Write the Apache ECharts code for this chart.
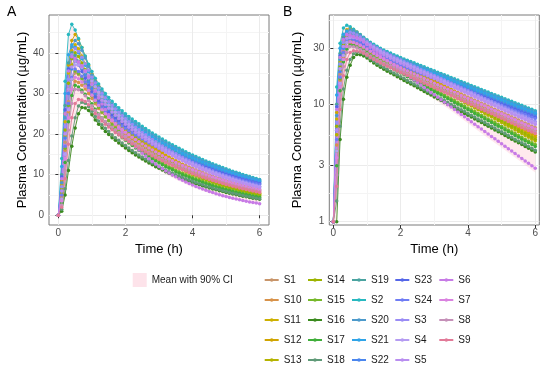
<!DOCTYPE html>
<html><head><meta charset="utf-8">
<script src="https://cdn.jsdelivr.net/npm/echarts@6/dist/echarts.min.js"></script>
<style>html,body{margin:0;padding:0;background:#fff}#c{width:550px;height:369px}</style>
</head><body><div id="c"></div>
<script>
// ---------- DATA ----------
const time = [0,0.1,0.2,0.3,0.4,0.5,0.6,0.7,0.8,0.9,1,1.1,1.2,1.3,1.4,1.5,1.6,1.7,1.8,1.9,2,2.1,2.2,2.3,2.4,2.5,2.6,2.7,2.8,2.9,3,3.1,3.2,3.3,3.4,3.5,3.6,3.7,3.8,3.9,4,4.1,4.2,4.3,4.4,4.5,4.6,4.7,4.8,4.9,5,5.1,5.2,5.3,5.4,5.5,5.6,5.7,5.8,5.9,6];
const subjects = ['S1','S10','S11','S12','S13','S14','S15','S16','S17','S18','S19','S2','S20','S21','S22','S23','S24','S3','S4','S5','S6','S7','S8','S9'];

const S1 = [0,5.5,18.0,28.0,33.5,35.0,34.6,33.8,32.8,31.6,30.38,29.04,27.83,26.74,25.72,24.83,23.99,23.21,22.46,21.75,21.08,20.40,19.80,19.22,18.65,18.10,17.56,17.04,16.54,16.05,15.58,15.12,14.67,14.24,13.81,13.41,13.01,12.63,12.25,11.89,11.54,11.20,10.87,10.55,10.23,9.93,9.64,9.35,9.08,8.81,8.55,8.30,8.05,7.81,7.58,7.36,7.14,6.93,6.72,6.53,6.33];
const S10 = [0,4.5,16.0,25.5,31.0,33.0,32.7,32.0,31.1,30.0,28.73,27.44,26.27,25.23,24.26,23.41,22.61,21.87,21.16,20.48,19.85,19.22,18.65,18.10,17.56,17.04,16.54,16.05,15.58,15.12,14.67,14.24,13.81,13.41,13.01,12.63,12.25,11.89,11.54,11.20,10.87,10.55,10.23,9.93,9.64,9.35,9.08,8.81,8.55,8.30,8.05,7.81,7.58,7.36,7.14,6.93,6.72,6.53,6.33,6.15,5.96];
const S11 = [0,7.5,23.0,35.0,40.5,42.0,41.0,39.2,37.3,35.4,33.64,32.02,30.54,29.20,27.95,26.83,25.77,24.79,23.85,22.96,22.12,21.29,20.54,19.81,19.11,18.44,17.79,17.16,16.55,15.96,15.40,14.86,14.33,13.82,13.33,12.86,12.41,11.97,11.55,11.14,10.74,10.36,10.00,9.64,9.30,8.97,8.66,8.35,8.06,7.77,7.50,7.23,6.98,6.73,6.49,6.26,6.04,5.83,5.62,5.42,5.23];
const S12 = [0,8.5,25.0,37.0,43.0,44.5,43.3,41.3,39.1,36.9,34.80,33.14,31.62,30.24,28.95,27.80,26.71,25.69,24.72,23.80,22.93,22.07,21.29,20.54,19.81,19.11,18.44,17.79,17.16,16.55,15.96,15.40,14.86,14.33,13.82,13.33,12.86,12.41,11.97,11.55,11.14,10.74,10.36,10.00,9.64,9.30,8.97,8.66,8.35,8.06,7.77,7.50,7.23,6.98,6.73,6.49,6.26,6.04,5.83,5.62,5.42];
const S13 = [0,5.5,19.5,31.0,37.0,38.5,37.7,36.2,34.6,33.0,31.44,29.90,28.50,27.23,26.04,24.99,24.00,23.08,22.20,21.37,20.59,19.81,19.11,18.44,17.79,17.16,16.55,15.96,15.40,14.86,14.33,13.82,13.33,12.86,12.41,11.97,11.55,11.14,10.74,10.36,10.00,9.64,9.30,8.97,8.66,8.35,8.06,7.77,7.50,7.23,6.98,6.73,6.49,6.26,6.04,5.83,5.62,5.42,5.23,5.04,4.87];
const S14 = [0,6.5,21.0,32.5,38.5,40.0,39.1,37.5,35.8,34.1,32.52,30.94,29.50,28.20,26.98,25.89,24.87,23.92,23.01,22.15,21.34,20.54,19.81,19.11,18.44,17.79,17.16,16.55,15.96,15.40,14.86,14.33,13.82,13.33,12.86,12.41,11.97,11.55,11.14,10.74,10.36,10.00,9.64,9.30,8.97,8.66,8.35,8.06,7.77,7.50,7.23,6.98,6.73,6.49,6.26,6.04,5.83,5.62,5.42,5.23,5.04];
const S15 = [0,4.0,16.5,27.0,33.5,35.5,34.9,33.6,32.2,30.8,29.40,27.93,26.59,25.39,24.27,23.28,22.35,21.49,20.67,19.89,19.16,18.44,17.79,17.16,16.55,15.96,15.40,14.86,14.33,13.82,13.33,12.86,12.41,11.97,11.55,11.14,10.74,10.36,10.00,9.64,9.30,8.97,8.66,8.35,8.06,7.77,7.50,7.23,6.98,6.73,6.49,6.26,6.04,5.83,5.62,5.42,5.23,5.04,4.87,4.69,4.53];
const S16 = [0,1.0,5.0,11.0,17.0,21.5,25.0,26.5,26.4,25.8,24.72,23.48,22.42,21.49,20.64,19.86,19.11,18.44,17.79,17.16,16.55,15.96,15.40,14.86,14.33,13.82,13.33,12.86,12.41,11.97,11.55,11.14,10.74,10.36,10.00,9.64,9.30,8.97,8.66,8.35,8.06,7.77,7.50,7.23,6.98,6.73,6.49,6.26,6.04,5.83,5.62,5.42,5.23,5.04,4.87,4.69,4.53,4.37,4.21,4.06,3.92];
const S17 = [0,3.0,13.0,23.0,29.5,32.0,31.6,30.8,29.8,28.7,27.43,26.09,24.94,23.92,22.98,22.12,21.29,20.54,19.81,19.11,18.44,17.79,17.16,16.55,15.96,15.40,14.86,14.33,13.82,13.33,12.86,12.41,11.97,11.55,11.14,10.74,10.36,10.00,9.64,9.30,8.97,8.66,8.35,8.06,7.77,7.50,7.23,6.98,6.73,6.49,6.26,6.04,5.83,5.62,5.42,5.23,5.04,4.87,4.69,4.53,4.37];
const S18 = [0,1.5,6.5,13.5,19.5,24.0,26.9,27.8,27.6,26.8,25.59,24.32,23.23,22.27,21.39,20.59,19.81,19.11,18.44,17.79,17.16,16.55,15.96,15.40,14.86,14.33,13.82,13.33,12.86,12.41,11.97,11.55,11.14,10.74,10.36,10.00,9.64,9.30,8.97,8.66,8.35,8.06,7.77,7.50,7.23,6.98,6.73,6.49,6.26,6.04,5.83,5.62,5.42,5.23,5.04,4.87,4.69,4.53,4.37,4.21,4.06];
const S19 = [0,10.0,27.0,37.5,40.0,39.3,37.9,36.3,34.8,33.3,31.94,30.68,29.53,28.50,27.54,26.69,25.90,25.16,24.45,23.78,23.14,22.50,21.92,21.36,20.81,20.27,19.75,19.25,18.75,18.27,17.80,17.35,16.90,16.47,16.04,15.63,15.23,14.84,14.46,14.09,13.73,13.37,13.03,12.70,12.37,12.05,11.74,11.44,11.15,10.86,10.58,10.31,10.05,9.79,9.54,9.29,9.06,8.82,8.60,8.38,8.16];
const S2 = [0,14.0,33.0,44.5,47.0,45.6,43.5,41.3,39.2,37.2,35.37,33.74,32.33,31.09,29.98,28.98,28.08,27.24,26.44,25.70,24.99,24.32,23.70,23.09,22.50,21.92,21.36,20.81,20.27,19.75,19.25,18.75,18.27,17.80,17.35,16.90,16.47,16.04,15.63,15.23,14.84,14.46,14.09,13.73,13.37,13.03,12.70,12.37,12.05,11.74,11.44,11.15,10.86,10.58,10.31,10.05,9.79,9.54,9.29,9.06,8.82];
const S20 = [0,8.0,24.0,36.0,41.5,43.0,42.2,40.6,38.7,36.6,34.54,32.93,31.54,30.33,29.23,28.25,27.37,26.54,25.77,25.04,24.35,23.70,23.09,22.50,21.92,21.36,20.81,20.27,19.75,19.25,18.75,18.27,17.80,17.35,16.90,16.47,16.04,15.63,15.23,14.84,14.46,14.09,13.73,13.37,13.03,12.70,12.37,12.05,11.74,11.44,11.15,10.86,10.58,10.31,10.05,9.79,9.54,9.29,9.06,8.82,8.60];
const S21 = [0,12.0,30.0,39.5,42.0,41.3,40.0,38.5,36.9,35.3,33.73,32.14,30.78,29.58,28.50,27.54,26.67,25.87,25.11,24.40,23.73,23.09,22.50,21.92,21.36,20.81,20.27,19.75,19.25,18.75,18.27,17.80,17.35,16.90,16.47,16.04,15.63,15.23,14.84,14.46,14.09,13.73,13.37,13.03,12.70,12.37,12.05,11.74,11.44,11.15,10.86,10.58,10.31,10.05,9.79,9.54,9.29,9.06,8.82,8.60,8.38];
const S22 = [0,6.0,19.0,30.0,36.0,38.0,37.4,36.1,34.5,32.8,31.18,29.93,28.80,27.79,26.84,26.02,25.24,24.52,23.83,23.17,22.55,21.92,21.36,20.81,20.27,19.75,19.25,18.75,18.27,17.80,17.35,16.90,16.47,16.04,15.63,15.23,14.84,14.46,14.09,13.73,13.37,13.03,12.70,12.37,12.05,11.74,11.44,11.15,10.86,10.58,10.31,10.05,9.79,9.54,9.29,9.06,8.82,8.60,8.38,8.16,7.95];
const S23 = [0,9.5,26.0,36.0,39.0,38.3,37.0,35.4,33.7,32.0,30.43,29.20,28.09,27.09,26.17,25.36,24.60,23.90,23.22,22.58,21.97,21.36,20.81,20.27,19.75,19.25,18.75,18.27,17.80,17.35,16.90,16.47,16.04,15.63,15.23,14.84,14.46,14.09,13.73,13.37,13.03,12.70,12.37,12.05,11.74,11.44,11.15,10.86,10.58,10.31,10.05,9.79,9.54,9.29,9.06,8.82,8.60,8.38,8.16,7.95,7.75];
const S24 = [0,5.0,17.0,27.5,34.0,36.0,35.4,34.2,32.8,31.3,29.70,28.49,27.39,26.42,25.51,24.72,23.98,23.29,22.63,22.00,21.41,20.81,20.27,19.75,19.25,18.75,18.27,17.80,17.35,16.90,16.47,16.04,15.63,15.23,14.84,14.46,14.09,13.73,13.37,13.03,12.70,12.37,12.05,11.74,11.44,11.15,10.86,10.58,10.31,10.05,9.79,9.54,9.29,9.06,8.82,8.60,8.38,8.16,7.95,7.75,7.55];
const S3 = [0,7.0,22.0,33.5,39.5,41.0,40.3,38.9,37.3,35.7,34.00,32.55,31.24,30.05,28.93,27.94,27.01,26.14,25.30,24.51,23.76,23.01,22.33,21.67,21.03,20.40,19.80,19.22,18.65,18.10,17.56,17.04,16.54,16.05,15.58,15.12,14.67,14.24,13.81,13.41,13.01,12.63,12.25,11.89,11.54,11.20,10.87,10.55,10.23,9.93,9.64,9.35,9.08,8.81,8.55,8.30,8.05,7.81,7.58,7.36,7.14];
const S4 = [0,4.0,15.0,26.0,33.5,37.0,37.0,36.4,35.5,34.4,33.05,31.64,30.35,29.18,28.09,27.13,26.22,25.37,24.56,23.79,23.06,22.33,21.67,21.03,20.40,19.80,19.22,18.65,18.10,17.56,17.04,16.54,16.05,15.58,15.12,14.67,14.24,13.81,13.41,13.01,12.63,12.25,11.89,11.54,11.20,10.87,10.55,10.23,9.93,9.64,9.35,9.08,8.81,8.55,8.30,8.05,7.81,7.58,7.36,7.14,6.93];
const S5 = [0,6.0,20.0,31.0,36.5,38.0,37.6,36.6,35.3,33.8,32.14,30.75,29.48,28.34,27.28,26.34,25.45,24.63,23.84,23.09,22.38,21.67,21.03,20.40,19.80,19.22,18.65,18.10,17.56,17.04,16.54,16.05,15.58,15.12,14.67,14.24,13.81,13.41,13.01,12.63,12.25,11.89,11.54,11.20,10.87,10.55,10.23,9.93,9.64,9.35,9.08,8.81,8.55,8.30,8.05,7.81,7.58,7.36,7.14,6.93,6.72];
const S6 = [0,9.0,25.0,35.5,39.0,38.6,37.8,36.8,35.6,34.1,32.40,30.53,28.88,27.39,26.01,24.75,23.54,22.44,21.39,20.39,19.43,18.52,17.65,16.82,16.04,15.28,14.57,13.89,13.23,12.61,12.02,11.46,10.92,10.41,9.92,9.46,9.01,8.59,8.19,7.81,7.44,7.09,6.76,6.44,6.14,5.85,5.58,5.32,5.07,4.83,4.60,4.39,4.18,3.99,3.80,3.62,3.45,3.29,3.14,2.99,2.85];
const S7 = [0,3.5,14.0,24.0,31.0,34.0,33.6,32.8,31.8,30.7,29.54,28.23,27.04,25.97,24.98,24.11,23.29,22.53,21.80,21.11,20.45,19.80,19.22,18.65,18.10,17.56,17.04,16.54,16.05,15.58,15.12,14.67,14.24,13.81,13.41,13.01,12.63,12.25,11.89,11.54,11.20,10.87,10.55,10.23,9.93,9.64,9.35,9.08,8.81,8.55,8.30,8.05,7.81,7.58,7.36,7.14,6.93,6.72,6.53,6.33,6.15];
const S8 = [0,2.5,11.0,21.0,27.5,31.0,30.9,30.3,29.4,28.2,26.94,25.77,24.78,23.91,23.11,22.38,21.67,21.03,20.40,19.80,19.22,18.65,18.10,17.56,17.04,16.54,16.05,15.58,15.12,14.67,14.24,13.81,13.41,13.01,12.63,12.25,11.89,11.54,11.20,10.87,10.55,10.23,9.93,9.64,9.35,9.08,8.81,8.55,8.30,8.05,7.81,7.58,7.36,7.14,6.93,6.72,6.53,6.33,6.15,5.96,5.79];
const S9 = [0,2.0,9.0,17.5,24.0,27.5,28.5,28.4,28.0,27.2,26.17,25.03,24.06,23.21,22.43,21.72,21.03,20.40,19.80,19.22,18.65,18.10,17.56,17.04,16.54,16.05,15.58,15.12,14.67,14.24,13.81,13.41,13.01,12.63,12.25,11.89,11.54,11.20,10.87,10.55,10.23,9.93,9.64,9.35,9.08,8.81,8.55,8.30,8.05,7.81,7.58,7.36,7.14,6.93,6.72,6.53,6.33,6.15,5.96,5.79,5.62];

// ribbon: mean with 90% CI (lower / upper bounds)
const ciTime  = [0,0.1,0.2,0.3,0.4,0.5,0.6,0.7,0.8,0.9,1.0,1.5,2.0,2.5,3.0,3.5,4.0,4.5,5.0,5.5,6.0];
const ciLower = [0,1.0,5.0,11.0,17.0,21.5,25.0,26.5,26.4,25.8,24.2,19.5,16.0,13.4,11.0,8.8,6.9,5.4,4.25,3.35,2.62];
const ciUpper = [0,14.0,33.0,44.5,47.0,45.6,43.5,41.3,39.2,37.2,35.4,29.0,25.0,21.9,19.3,16.9,14.8,13.0,11.4,10.1,8.9];

// tick labels
const xTicks = [0,2,4,6];
const xMinor = [1,3,5];
const yTicksA = [0,10,20,30,40];
const yMinorA = [5,15,25,35,45];
const yTicksB = [1,3,10,30];
const yMinorB = [1.732,5.477,17.32,51.96];

const seriesData = {S1,S10,S11,S12,S13,S14,S15,S16,S17,S18,S19,S2,S20,S21,S22,S23,S24,S3,S4,S5,S6,S7,S8,S9};

// ---------- STYLE ----------
const colors = {
  S1:'#C8956A', S10:'#D8924A', S11:'#CDB000', S12:'#D0A400', S13:'#B5B300', S14:'#9DB300',
  S15:'#76B82A', S16:'#3A8A1E', S17:'#3FAE3A', S18:'#5F9A78', S19:'#4AA3A0', S2:'#27B8C0',
  S20:'#4C9ACB', S21:'#2FA4E8', S22:'#4A86EE', S23:'#5566E8', S24:'#6F7CF4', S3:'#9A8CF5',
  S4:'#B59CF2', S5:'#B98EF0', S6:'#C77BE6', S7:'#DA82E0', S8:'#C590B8', S9:'#E27A98'
};
const FONT = 'Liberation Sans, Arial, sans-serif';
const GRIDC = '#EBEBEB', MINORC = '#F4F4F4';
const CI_NAME = 'Mean with 90% CI';

function mainX(gi, min, max) {
  return { type:'value', gridIndex:gi, min, max, position:'bottom',
    name:'Time (h)', nameLocation:'middle', nameGap:15,
    nameTextStyle:{fontFamily:FONT, fontSize:13, color:'#000'},
    axisLine:{show:false},
    axisTick:{show:true, length:3, lineStyle:{color:'#333'}, customValues:xTicks},
    axisLabel:{fontFamily:FONT, fontSize:10, color:'#4D4D4D', margin:3, customValues:xTicks},
    splitLine:{show:true, lineStyle:{color:GRIDC, width:1}} };
}
function minorX(gi, min, max) {
  return { type:'value', gridIndex:gi, min, max, position:'top',
    axisLine:{show:false}, axisLabel:{show:false},
    axisTick:{show:false, customValues:xMinor},
    splitLine:{show:true, lineStyle:{color:MINORC, width:1}} };
}
function mainY(gi, type, min, max, ticks, gap) {
  return { type, gridIndex:gi, min, max, position:'left', logBase:10,
    name:'Plasma Concentration (\u00b5g/mL)', nameLocation:'middle', nameGap:gap,
    nameTextStyle:{fontFamily:FONT, fontSize:13, color:'#000'},
    axisLine:{show:false},
    axisTick:{show:true, length:3, lineStyle:{color:'#333'}, customValues:ticks},
    axisLabel:{fontFamily:FONT, fontSize:10, color:'#4D4D4D', margin:5, customValues:ticks,
      formatter:(v)=>String(Math.round(v))},
    splitLine:{show:true, lineStyle:{color:GRIDC, width:1}} };
}
function minorY(gi, type, min, max, ticks) {
  return { type, gridIndex:gi, min, max, position:'right', logBase:10,
    axisLine:{show:false}, axisLabel:{show:false},
    axisTick:{show:false, customValues:ticks},
    splitLine:{show:true, lineStyle:{color:MINORC, width:1}} };
}

const series = [];
function ribbon(xi, yi, isLog) {
  const fix = v => (isLog && v <= 0) ? 1 : v;
  return { type:'custom', name:CI_NAME, xAxisIndex:xi, yAxisIndex:yi, z:1, silent:true,
    itemStyle:{color:'#FDE3EA'}, data:[[1,10]],
    renderItem:(params, api) => {
      if (params.dataIndex !== 0) return;
      const up = ciTime.map((t,i)=>api.coord([t, fix(ciUpper[i])]));
      const lo = ciTime.map((t,i)=>api.coord([t, fix(ciLower[i])])).reverse();
      return { type:'polygon', shape:{points: up.concat(lo)},
        style:{fill:'rgba(255,192,203,0.35)'} };
    } };
}
series.push(ribbon(0,0,false));
series.push(ribbon(2,2,true));
const bad = [];
for (const panel of [{xi:0, yi:0, log:false},{xi:2, yi:2, log:true}]) {
  for (const s of subjects) {
    const vals = seriesData[s];
    if (vals.length !== time.length) bad.push(s + ':' + vals.length);
    series.push({ type:'line', name:s, xAxisIndex:panel.xi, yAxisIndex:panel.yi,
      data: time.map((t,i)=>[t, (panel.log && vals[i] <= 0) ? 1 : vals[i]]),
      symbol:'circle', symbolSize:3.5, showSymbol:true, showAllSymbol:true,
      lineStyle:{width:0.9, color:colors[s]}, itemStyle:{color:colors[s]},
      emphasis:{disabled:true}, animation:false, z:3, clip:true });
  }
}

const legendCols = [
  ['S1','S10','S11','S12','S13'],
  ['S14','S15','S16','S17','S18'],
  ['S19','S2','S20','S21','S22'],
  ['S23','S24','S3','S4','S5'],
  ['S6','S7','S8','S9']
];
const colLeft = [263.7, 307, 351, 394.3, 438.3];
const legends = legendCols.map((col, i) => ({
  orient:'vertical', left:colLeft[i], top:273, itemWidth:14, itemHeight:4.5, itemGap:6,
  selectedMode:false, padding:0,
  textStyle:{fontFamily:FONT, fontSize:10, color:'#1a1a1a', lineHeight:14},
  data: col
}));
legends.push({ orient:'vertical', left:132.7, top:273, itemWidth:14, itemHeight:14, selectedMode:false, padding:0,
  textStyle:{fontFamily:FONT, fontSize:10, color:'#1a1a1a', lineHeight:14},
  data:[{name:CI_NAME, icon:'rect', itemStyle:{color:'#FDE3EA'}}] });

const graphics = [
  {type:'text', left:7, top:5, style:{text:'A', font:'14px ' + FONT, fill:'#000'}},
  {type:'text', left:283, top:5, style:{text:'B', font:'14px ' + FONT, fill:'#000'}}
];
if (bad.length) graphics.push({type:'text', left:300, top:300, style:{text:'LEN ' + bad.join(' '), fill:'red', font:'12px sans-serif'}});

const chart = echarts.init(document.getElementById('c'), null, {renderer:'canvas'});
chart.setOption({
  animation:false,
  backgroundColor:'#fff',
  grid:[
    {left:49, top:15, width:220, height:210, show:true, borderColor:'#7a7a7a', borderWidth:1, backgroundColor:'transparent'},
    {left:329.3, top:15, width:210, height:210, show:true, borderColor:'#7a7a7a', borderWidth:1, backgroundColor:'transparent'}
  ],
  xAxis:[ mainX(0,-0.28,6.28), minorX(0,-0.28,6.28), mainX(1,-0.12,6.12), minorX(1,-0.12,6.12) ],
  yAxis:[ mainY(0,'value',-2.4,49.3,yTicksA,19.5), minorY(0,'value',-2.4,49.3,yMinorA),
          mainY(1,'log',0.937,57.5,yTicksB,25), minorY(1,'log',0.937,57.5,yMinorB) ],
  legend: legends,
  graphic: graphics,
  series
});
</script></body></html>
